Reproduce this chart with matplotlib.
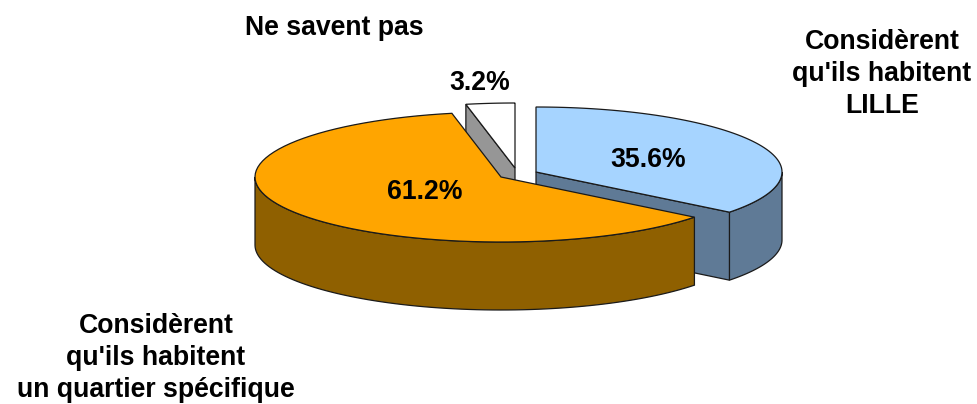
#!/usr/bin/env python
"""Exploded 3D-look pie, drawn with polygons in pixel coordinates."""
import numpy as np
import matplotlib
matplotlib.use('Agg')
import matplotlib.pyplot as plt
from matplotlib.patches import Polygon

labels = ["Considèrent\nqu'ils habitent\nLILLE",
          "Considèrent\nqu'ils habitent\nun quartier spécifique",
          "Ne savent pas"]
shares = [35.6, 61.2, 3.2]
value_text = ['35.6%', '61.2%', '3.2%']

# layout
RX, RY, DEPTH = 246, 65, 68
apex = [(536, 172), (501, 177), (515, 168)]
top_col = ['#A6D4FF', '#FFA500', '#FFFFFF']
side_col = ['#5F7A96', '#8F6000', '#969696']
EDGE = '#1a1a1a'

plt.rcParams['font.family'] = ['Liberation Sans', 'DejaVu Sans']
fig = plt.figure(figsize=(9.78, 4.04), dpi=100)
ax = fig.add_axes([0, 0, 1, 1])
ax.set_xlim(0, 978)
ax.set_ylim(404, 0)
ax.axis('off')

# wedge angles, clockwise from 12 o'clock
cuts = 90 - np.cumsum([0] + shares) * 3.6


def rim(i, a0, a1):
    t = np.radians(np.linspace(a0, a1, 80))
    return apex[i][0] + RX * np.cos(t), apex[i][1] - RY * np.sin(t)


def shape(xy, fc, z):
    ax.add_patch(Polygon(xy, closed=True, fc=fc, ec=EDGE, lw=0.9, zorder=z))


def side_wall(i, a0, a1, z):
    x, y = rim(i, a0, a1)
    xy = np.r_[np.c_[x, y], np.c_[x[::-1], y[::-1] + DEPTH]]
    shape(xy, side_col[i], z)


def cut_face(i, a, z):
    x, y = rim(i, a, a)
    ax0, ay0 = apex[i]
    shape([(ax0, ay0), (x[0], y[0]), (x[0], y[0] + DEPTH), (ax0, ay0 + DEPTH)],
          side_col[i], z)


def top_face(i, z):
    x, y = rim(i, cuts[i], cuts[i + 1])
    shape(np.r_[[apex[i]], np.c_[x, y]], top_col[i], z)


# white slice at the back
cut_face(2, cuts[2], 1)
top_face(2, 2)

# blue slice
side_wall(0, 0, cuts[1], 3)
cut_face(0, cuts[1], 3)
top_face(0, 4)

# orange slice goes over both
side_wall(1, 180, cuts[1] + 360, 5)
top_face(1, 6)

txt = dict(ha='center', va='center', fontweight='bold', fontsize=19.2,
           color='black', zorder=10, linespacing=1.3)
ax.text(648, 160, value_text[0], **txt)
ax.text(425, 192, value_text[1], **txt)
ax.text(480, 83, value_text[2], **txt)
ax.text(882, 74, labels[0], **txt)
ax.text(156, 358, labels[1], **txt)
ax.text(334, 28, labels[2], **txt)

fig.savefig('out.png', dpi=100)
